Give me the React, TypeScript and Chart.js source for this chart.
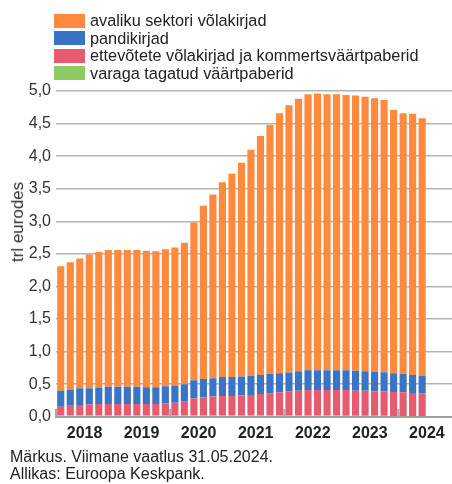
import React, { useEffect, useRef } from "react";
import { Chart, registerables } from "chart.js";

Chart.register(...registerables);

// bimonthly observations, Jan 2018 … May 2024
const periods = [
  "2018-01", "2018-03", "2018-05", "2018-07", "2018-09", "2018-11",
  "2019-01", "2019-03", "2019-05", "2019-07", "2019-09", "2019-11",
  "2020-01", "2020-03", "2020-05", "2020-07", "2020-09", "2020-11",
  "2021-01", "2021-03", "2021-05", "2021-07", "2021-09", "2021-11",
  "2022-01", "2022-03", "2022-05", "2022-07", "2022-09", "2022-11",
  "2023-01", "2023-03", "2023-05", "2023-07", "2023-09", "2023-11",
  "2024-01", "2024-03", "2024-05",
];

const yearLabels = ["2018", "2019", "2020", "2021", "2022", "2023", "2024"];
const yTickLabels = ["0,0", "0,5", "1,0", "1,5", "2,0", "2,5", "3,0", "3,5", "4,0", "4,5", "5,0"];

// trl eurodes
const publicSector = [
  1.91, 1.95, 1.99, 2.05, 2.08, 2.10,
  2.10, 2.10, 2.10, 2.095, 2.085, 2.10,
  2.12, 2.17, 2.42, 2.66, 2.82, 2.99,
  3.12, 3.28, 3.47, 3.67, 3.82, 3.99,
  4.10, 4.18, 4.235, 4.245, 4.235, 4.235,
  4.225, 4.225, 4.21, 4.20, 4.175, 4.04,
  4.00, 4.01, 3.95,
];
const coveredBonds = [
  0.245, 0.25, 0.26, 0.25, 0.255, 0.265,
  0.265, 0.265, 0.265, 0.26, 0.26, 0.265,
  0.265, 0.27, 0.28, 0.28, 0.28, 0.29,
  0.29, 0.295, 0.295, 0.29, 0.30, 0.295,
  0.29, 0.30, 0.305, 0.305, 0.305, 0.305,
  0.305, 0.305, 0.30, 0.30, 0.295, 0.29,
  0.285, 0.275, 0.27,
];
const corporate = [
  0.13, 0.145, 0.155, 0.165, 0.17, 0.17,
  0.17, 0.17, 0.17, 0.17, 0.17, 0.18,
  0.19, 0.205, 0.26, 0.28, 0.29, 0.30,
  0.30, 0.305, 0.315, 0.33, 0.34, 0.355,
  0.37, 0.38, 0.39, 0.39, 0.39, 0.39,
  0.395, 0.385, 0.385, 0.375, 0.375, 0.37,
  0.365, 0.355, 0.35,
];
const assetBacked = [
  0.025, 0.025, 0.025, 0.025, 0.025, 0.025,
  0.025, 0.025, 0.025, 0.025, 0.025, 0.025,
  0.025, 0.025, 0.02, 0.02, 0.02, 0.02,
  0.02, 0.02, 0.02, 0.02, 0.02, 0.02,
  0.02, 0.02, 0.02, 0.02, 0.02, 0.02,
  0.015, 0.015, 0.015, 0.015, 0.015, 0.01,
  0.01, 0.01, 0.01,
];

const seriesNames = [
  "avaliku sektori võlakirjad",
  "pandikirjad",
  "ettevõtete võlakirjad ja kommertsväärtpaberid",
  "varaga tagatud väärtpaberid",
];
const seriesColors = ["#ff8a3d", "#3a74c5", "#e65b70", "#8dcb62"];

const FONT = "'Liberation Sans', Arial, Helvetica, sans-serif";

const boundaryTicks = {
  id: "boundaryTicks",
  afterDatasetsDraw(chart: any) {
    const x = chart.scales.x;
    const { bottom } = chart.chartArea;
    const ctx = chart.ctx;
    ctx.save();
    ctx.strokeStyle = "#a8a8a8";
    ctx.lineWidth = 2;
    yearLabels.forEach((_, i) => {
      if (i % 2 !== 0) return;
      const px = x.getPixelForValue(-0.5 + 6 * i);
      ctx.beginPath();
      ctx.moveTo(px, bottom);
      ctx.lineTo(px, bottom - 8);
      ctx.stroke();
    });
    ctx.restore();
  },
};

export default function App() {
  const ref = useRef<HTMLCanvasElement>(null);

  useEffect(() => {
    if (!ref.current) return;
    const stackOrder = [
      { name: seriesNames[3], data: assetBacked, color: seriesColors[3] },
      { name: seriesNames[2], data: corporate, color: seriesColors[2] },
      { name: seriesNames[1], data: coveredBonds, color: seriesColors[1] },
      { name: seriesNames[0], data: publicSector, color: seriesColors[0] },
    ];
    const chart = new Chart(ref.current, {
      type: "bar",
      data: {
        datasets: stackOrder.map((s) => ({
          label: s.name,
          data: s.data.map((y, i) => ({ x: i, y })),
          backgroundColor: s.color,
          borderWidth: 0,
          barPercentage: 0.75,
          categoryPercentage: 1,
        })),
      },
      plugins: [boundaryTicks],
      options: {
        responsive: false,
        animation: false,
        devicePixelRatio: 1,
        layout: { padding: { top: 91, right: 0, bottom: 0, left: 0 } },
        plugins: {
          legend: { display: false },
          tooltip: {
            callbacks: {
              title: (items: any[]) => periods[items[0].dataIndex],
            },
          },
        },
        scales: {
          x: {
            type: "linear",
            stacked: true,
            offset: false,
            min: -0.5,
            max: 41.14,
            grid: { display: false, drawTicks: false, offset: false },
            border: { display: true, color: "#a0a0a0", width: 2 },
            afterBuildTicks: (axis: any) => {
              axis.ticks = yearLabels.map((_, i) => ({ value: 2.5 + 6 * i }));
            },
            ticks: {
              autoSkip: false,
              maxRotation: 0,
              padding: 7,
              color: "#222",
              font: { family: FONT, size: 16, weight: "bold" },
              callback: (v: any) => yearLabels[Math.round((Number(v) - 2.5) / 6)],
            },
          },
          y: {
            stacked: true,
            min: 0,
            max: 5,
            afterFit: (axis: any) => {
              axis.width = 56;
            },
            grid: { color: "#b4b4b4", lineWidth: 1.5, drawTicks: false },
            border: { display: false },
            ticks: {
              stepSize: 0.5,
              padding: 5,
              color: "#333",
              font: { family: FONT, size: 16 },
              callback: (_v: any, i: number) => yTickLabels[i],
            },
          },
        },
      },
    });
    return () => chart.destroy();
  }, []);

  const legendOrder = [0, 1, 2, 3];

  return (
    <div
      style={{
        position: "fixed",
        left: 0,
        top: 0,
        width: 452,
        height: 484,
        background: "#fff",
        fontFamily: FONT,
        color: "#222",
        overflow: "hidden",
      }}
    >
      <canvas
        ref={ref}
        width={452}
        height={450}
        style={{ position: "absolute", left: 0, top: 0, width: 452, height: 450 }}
      />
      <div style={{ position: "absolute", left: 54, top: 12 }}>
        {legendOrder.map((k) => (
          <div
            key={k}
            style={{ display: "flex", alignItems: "center", height: 17.5 }}
          >
            <span
              style={{
                display: "inline-block",
                width: 31,
                height: 14,
                background: seriesColors[k],
                marginRight: 5,
              }}
            />
            <span style={{ fontSize: 16.3, lineHeight: "17px", whiteSpace: "nowrap" }}>
              {seriesNames[k]}
            </span>
          </div>
        ))}
      </div>
      <div
        style={{
          position: "absolute",
          left: 18,
          top: 222,
          transform: "translate(-50%, -50%) rotate(-90deg)",
          fontSize: 17,
          whiteSpace: "nowrap",
          color: "#333",
        }}
      >
        trl eurodes
      </div>
      <div
        style={{
          position: "absolute",
          left: 10,
          top: 448,
          fontSize: 16,
          lineHeight: "17px",
          color: "#222",
        }}
      >
        <div>Märkus. Viimane vaatlus 31.05.2024.</div>
        <div>Allikas: Euroopa Keskpank.</div>
      </div>
    </div>
  );
}
